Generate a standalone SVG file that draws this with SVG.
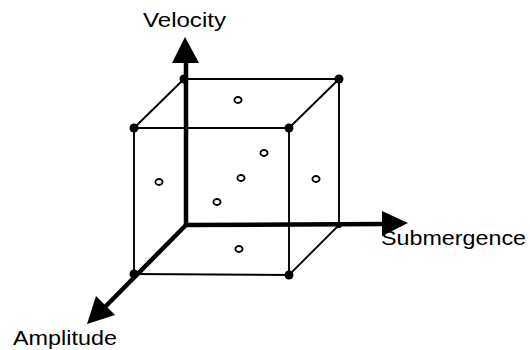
<svg xmlns="http://www.w3.org/2000/svg" width="530" height="350" viewBox="0 0 530 350">
<style>
.edge{stroke:#000;stroke-width:1.9;fill:none}
.axis{stroke:#000;stroke-width:4.5;fill:none}
.head{fill:#000}
.corner{fill:#000}
.pt{fill:#fff;stroke:#000;stroke-width:1.8}
.lbl{font-family:"Liberation Sans",Arial,sans-serif;font-size:21px;fill:#000}
</style>
<rect width="530" height="350" fill="#fff"/>
<g id="connectors">
<g id="cube-edges">
<line class="edge" x1="184" y1="79" x2="339" y2="79"/>
<line class="edge" x1="134" y1="128" x2="289" y2="128"/>
<line class="edge" x1="184" y1="79" x2="134" y2="128"/>
<line class="edge" x1="339" y1="79" x2="289" y2="128"/>
<line class="edge" x1="339" y1="225" x2="289" y2="275"/>
<line class="edge" x1="134" y1="128" x2="134" y2="274"/>
<line class="edge" x1="289" y1="128" x2="289" y2="275"/>
<line class="edge" x1="339" y1="79" x2="339" y2="225"/>
<line class="edge" x1="134" y1="274" x2="289" y2="275"/>
</g>
<g id="axes">
<line class="axis" x1="186" y1="225" x2="186" y2="60"/>
<polygon class="head" points="185,37 172,63 199,63"/>
<line class="axis" x1="186" y1="225" x2="385" y2="224"/>
<polygon class="head" points="408,223 382,211 382,236"/>
<line class="axis" x1="186" y1="225" x2="103" y2="309"/>
<polygon class="head" points="87,324 96,296 115,315"/>
</g>
</g>
<g id="corners">
<circle class="corner" cx="184" cy="79" r="4.5"/>
<circle class="corner" cx="339" cy="79" r="4.5"/>
<circle class="corner" cx="134" cy="128" r="4.5"/>
<circle class="corner" cx="289" cy="128" r="4.5"/>
<circle class="corner" cx="134" cy="274" r="4.5"/>
<circle class="corner" cx="289" cy="275" r="4.5"/>
<circle class="corner" cx="339" cy="225" r="3"/>
</g>
<g id="points">
<ellipse class="pt" cx="238" cy="100" rx="3.6" ry="3"/>
<ellipse class="pt" cx="264" cy="153" rx="3.6" ry="3"/>
<ellipse class="pt" cx="241" cy="178" rx="3.6" ry="3"/>
<ellipse class="pt" cx="217" cy="202" rx="3.6" ry="3"/>
<ellipse class="pt" cx="159" cy="182" rx="3.6" ry="3"/>
<ellipse class="pt" cx="316" cy="179" rx="3.6" ry="3"/>
<ellipse class="pt" cx="239" cy="249" rx="3.6" ry="3"/>
</g>
<g id="label-velocity"><text class="lbl" x="143" y="27" textLength="83" lengthAdjust="spacingAndGlyphs">Velocity</text></g>
<g id="label-submergence"><text class="lbl" x="381" y="245" textLength="145" lengthAdjust="spacingAndGlyphs">Submergence</text></g>
<g id="label-amplitude"><text class="lbl" x="13" y="345" textLength="104" lengthAdjust="spacingAndGlyphs">Amplitude</text></g>
</svg>
